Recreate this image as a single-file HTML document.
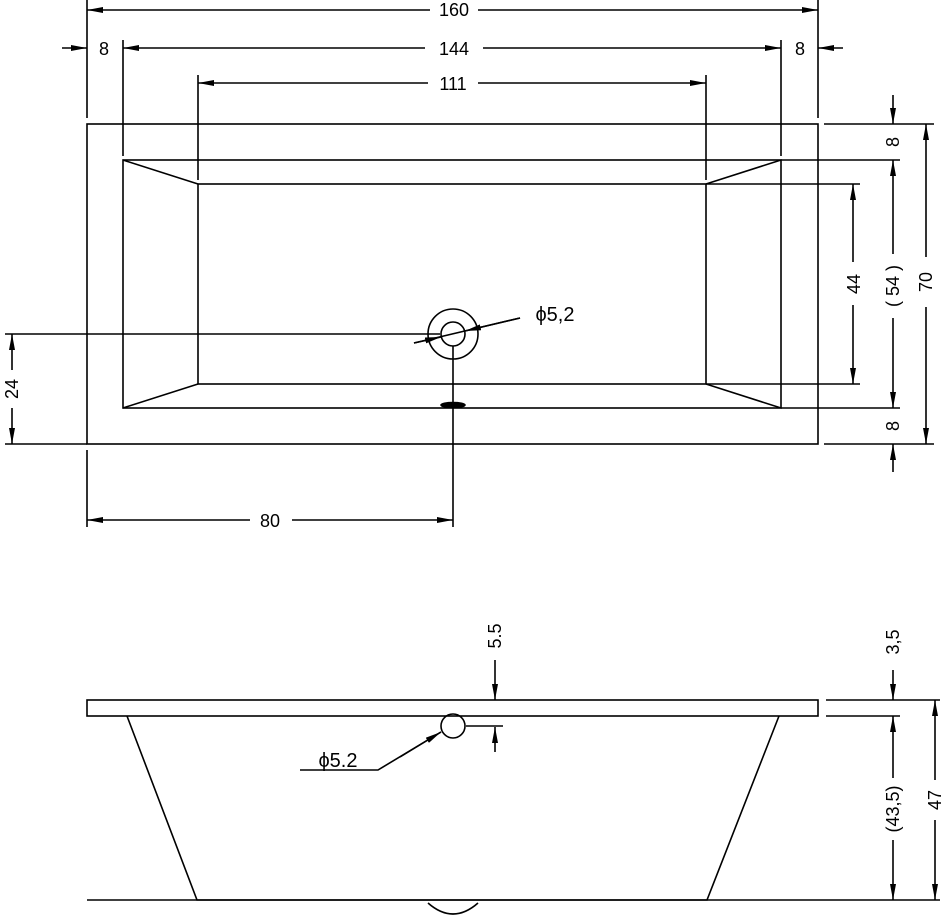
<!DOCTYPE html>
<html><head><meta charset="utf-8"><style>
html,body{margin:0;padding:0;background:#fff;}
svg{display:block;}
text{font-family:"Liberation Sans",sans-serif;font-size:18px;fill:#000;}
</style></head><body>
<svg width="944" height="920" viewBox="0 0 944 920" xmlns="http://www.w3.org/2000/svg">
<defs>
<marker id="a" viewBox="0 0 16 6" refX="16" refY="3" markerWidth="16" markerHeight="6" markerUnits="userSpaceOnUse" orient="auto-start-reverse">
<path d="M0,0 L16,3 L0,6 Z" fill="#000"/></marker>
</defs>
<g stroke="#000" stroke-width="1.6" fill="none">
<rect x="87" y="124" width="731" height="320"/>
<rect x="123" y="160" width="658" height="248"/>
<rect x="198" y="184" width="508" height="200"/>
<line x1="123" y1="160" x2="198" y2="184"/><line x1="781" y1="160" x2="706" y2="184"/>
<line x1="123" y1="408" x2="198" y2="384"/><line x1="781" y1="408" x2="706" y2="384"/>
<circle cx="453" cy="334" r="25"/><circle cx="453" cy="334" r="12"/>
<ellipse cx="453" cy="405" rx="12" ry="2.5" fill="#000"/>
<line x1="414" y1="343" x2="520" y2="318"/>
<line x1="414" y1="343" x2="441" y2="337" marker-end="url(#a)"/>
<line x1="520" y1="318" x2="465" y2="331" marker-end="url(#a)"/>
<line x1="87" y1="0" x2="87" y2="118"/><line x1="818" y1="0" x2="818" y2="118"/>
<line x1="123" y1="40" x2="123" y2="156"/><line x1="781" y1="40" x2="781" y2="156"/>
<line x1="198" y1="75" x2="198" y2="180"/><line x1="706" y1="75" x2="706" y2="180"/>
<line x1="87" y1="10" x2="430" y2="10" marker-start="url(#a)"/><line x1="478" y1="10" x2="818" y2="10" marker-end="url(#a)"/>
<line x1="123" y1="48" x2="425" y2="48" marker-start="url(#a)"/><line x1="483" y1="48" x2="781" y2="48" marker-end="url(#a)"/>
<line x1="198" y1="83" x2="428" y2="83" marker-start="url(#a)"/><line x1="478" y1="83" x2="706" y2="83" marker-end="url(#a)"/>
<line x1="62" y1="48" x2="87" y2="48" marker-end="url(#a)"/><line x1="843" y1="48" x2="818" y2="48" marker-end="url(#a)"/>
<line x1="824" y1="124" x2="934" y2="124"/><line x1="824" y1="444" x2="934" y2="444"/>
<line x1="781" y1="160" x2="900" y2="160"/><line x1="781" y1="408" x2="900" y2="408"/>
<line x1="706" y1="184" x2="860" y2="184"/><line x1="706" y1="384" x2="860" y2="384"/>
<line x1="893" y1="95" x2="893" y2="124" marker-end="url(#a)"/>
<line x1="893" y1="472" x2="893" y2="444" marker-end="url(#a)"/>
<line x1="853" y1="184" x2="853" y2="262" marker-start="url(#a)"/><line x1="853" y1="305" x2="853" y2="384" marker-end="url(#a)"/>
<line x1="893" y1="160" x2="893" y2="254" marker-start="url(#a)"/><line x1="893" y1="318" x2="893" y2="408" marker-end="url(#a)"/>
<line x1="926" y1="124" x2="926" y2="257" marker-start="url(#a)"/><line x1="926" y1="307" x2="926" y2="444" marker-end="url(#a)"/>
<line x1="5" y1="334" x2="440" y2="334"/><line x1="5" y1="444" x2="87" y2="444"/>
<line x1="12" y1="334" x2="12" y2="370" marker-start="url(#a)"/><line x1="12" y1="408" x2="12" y2="444" marker-end="url(#a)"/>
<line x1="87" y1="450" x2="87" y2="527"/><line x1="453" y1="346" x2="453" y2="527"/>
<line x1="87" y1="520" x2="250" y2="520" marker-start="url(#a)"/><line x1="292" y1="520" x2="453" y2="520" marker-end="url(#a)"/>
<rect x="87" y="700" width="731" height="16"/>
<path d="M127,716 L197,900 L707,900 L779,716"/>
<line x1="87" y1="900" x2="940" y2="900"/>
<path d="M428,903 Q453,925 478,903"/>
<circle cx="453" cy="726" r="12"/>
<line x1="466" y1="726" x2="503" y2="726"/>
<line x1="495" y1="660" x2="495" y2="700" marker-end="url(#a)"/>
<line x1="495" y1="752" x2="495" y2="727" marker-end="url(#a)"/>
<polyline points="300,770 378,770 441,732"/>
<line x1="400" y1="757" x2="441" y2="732" marker-end="url(#a)"/>
<line x1="826" y1="700" x2="940" y2="700"/><line x1="826" y1="716" x2="900" y2="716"/>
<line x1="893" y1="670" x2="893" y2="700" marker-end="url(#a)"/>
<line x1="893" y1="716" x2="893" y2="778" marker-start="url(#a)"/><line x1="893" y1="840" x2="893" y2="900" marker-end="url(#a)"/>
<line x1="935" y1="700" x2="935" y2="780" marker-start="url(#a)"/><line x1="935" y1="820" x2="935" y2="900" marker-end="url(#a)"/>
</g>
<text x="454" y="16" text-anchor="middle">160</text>
<text x="454" y="55" text-anchor="middle">144</text>
<text x="453" y="90" text-anchor="middle">111</text>
<text x="104" y="55" text-anchor="middle">8</text>
<text x="800" y="55" text-anchor="middle">8</text>
<text x="555" y="321" text-anchor="middle" style="font-size:20px">ϕ5,2</text>
<text x="270" y="527" text-anchor="middle">80</text>
<text transform="translate(18,389) rotate(-90)" text-anchor="middle">24</text>
<text transform="translate(899,142) rotate(-90)" text-anchor="middle">8</text>
<text transform="translate(899,426) rotate(-90)" text-anchor="middle">8</text>
<text transform="translate(860,284) rotate(-90)" text-anchor="middle">44</text>
<text transform="translate(899,286) rotate(-90)" text-anchor="middle">( 54 )</text>
<text transform="translate(932,282) rotate(-90)" text-anchor="middle">70</text>
<text transform="translate(501,636) rotate(-90)" text-anchor="middle">5.5</text>
<text transform="translate(899,642) rotate(-90)" text-anchor="middle">3,5</text>
<text transform="translate(899,809) rotate(-90)" text-anchor="middle">(43,5)</text>
<text transform="translate(941,800) rotate(-90)" text-anchor="middle">47</text>
<text x="338" y="767" text-anchor="middle" style="font-size:20px">ϕ5.2</text>
</svg>
</body></html>
